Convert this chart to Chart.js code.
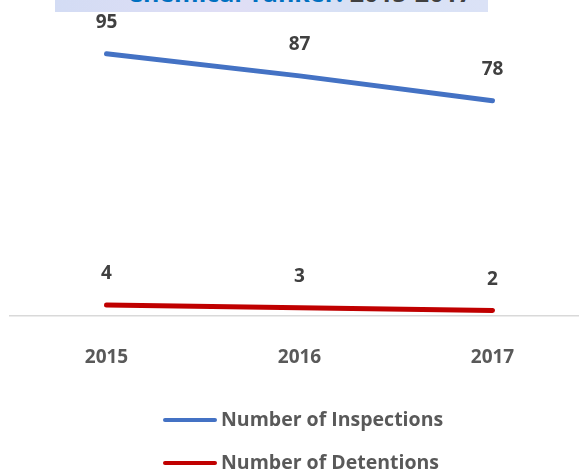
<!DOCTYPE html>
<html>
<head>
<meta charset="utf-8">
<script src="https://cdn.jsdelivr.net/npm/chart.js@4"></script>
<style>
    html, body { margin: 0; padding: 0; background: #fff; overflow: hidden; }
    #wrap { position: relative; width: 579px; height: 473px; overflow: hidden; }
    #box { position: absolute; left: 0; top: 0; width: 600px; height: 473px; }
    #title {
        position: absolute; left: 55px; top: -26px; width: 433px; height: 38px;
        padding-top: 3px; padding-left: 56px; box-sizing: border-box;
        background: linear-gradient(90deg, #d3dcf4 0%, #e0def5 40%, #d6e1f5 70%, #dbe2f6 100%);
        font: bold 25px "Open Sans", sans-serif; line-height: 30px; text-align: center;
        white-space: nowrap;
        z-index: 2;
    }
    #title .a { color: #0070C0; }
    #title .b { color: #404040; }
</style>
</head>
<body>
<div id="wrap">
    <div id="title"><span class="a">Chemical Tanker:</span> <span class="b">2015-2017</span></div>
    <div id="box"><canvas id="chart"></canvas></div>
</div>
<script>
const years = ['2015', '2016', '2017'];
const inspections = [95, 87, 78];
const detentions = [4, 3, 2];

const valueFont = 'bold 19px "Open Sans", sans-serif';
const legendFont = 'bold 19.5px "Open Sans", sans-serif';

// value labels above each point
const valueLabels = {
    id: 'valueLabels',
    afterDatasetsDraw(chart) {
        const ctx = chart.ctx;
        ctx.save();
        ctx.font = valueFont;
        ctx.fillStyle = '#404040';
        ctx.textAlign = 'center';
        ctx.textBaseline = 'middle';
        chart.data.datasets.forEach((ds, i) => {
            chart.getDatasetMeta(i).data.forEach((pt, j) => {
                ctx.fillText(String(ds.data[j]), pt.x, pt.y - 31);
            });
        });
        ctx.restore();
    }
};

// legend stacked in one column under the axis
const columnLegend = {
    id: 'columnLegend',
    afterDraw(chart) {
        const ctx = chart.ctx;
        ctx.save();
        ctx.font = legendFont;
        ctx.textBaseline = 'middle';
        chart.data.datasets.forEach((ds, i) => {
            const y = 420 + i * 43;
            ctx.strokeStyle = ds.borderColor;
            ctx.lineWidth = 4;
            ctx.lineCap = 'round';
            ctx.beginPath();
            ctx.moveTo(165, y);
            ctx.lineTo(215, y);
            ctx.stroke();
            ctx.fillStyle = '#595959';
            ctx.fillText(ds.label, 221, y);
        });
        ctx.restore();
    }
};

const ctx = document.getElementById('chart').getContext('2d');
new Chart(ctx, {
    type: 'line',
    data: {
        labels: years,
        datasets: [
            {
                label: 'Number of Inspections',
                data: inspections,
                borderColor: '#4472C4',
                borderWidth: 5,
                borderCapStyle: 'round',
                pointRadius: 0,
                tension: 0,
            },
            {
                label: 'Number of Detentions',
                data: detentions,
                borderColor: '#C00000',
                borderWidth: 5,
                borderCapStyle: 'round',
                pointRadius: 0,
                tension: 0,
            },
        ],
    },
    options: {
        animation: false,
        responsive: true,
        maintainAspectRatio: false,
        layout: {
            padding: { left: 10, right: 11, top: 40, bottom: 0 },
        },
        scales: {
            x: {
                offset: true,
                grid: { display: false },
                border: { display: true, color: '#d9d9d9', width: 1.5 },
                ticks: {
                    color: '#595959',
                    font: { family: 'Open Sans', size: 19, weight: 'bold' },
                    padding: 22,
                },
                afterFit(scale) { scale.height = 157; },
            },
            y: {
                display: false,
                min: 0,
                max: 100,
            },
        },
        plugins: {
            legend: { display: false },
            tooltip: { enabled: false },
        },
    },
    plugins: [valueLabels, columnLegend],
});
</script>
</body>
</html>
